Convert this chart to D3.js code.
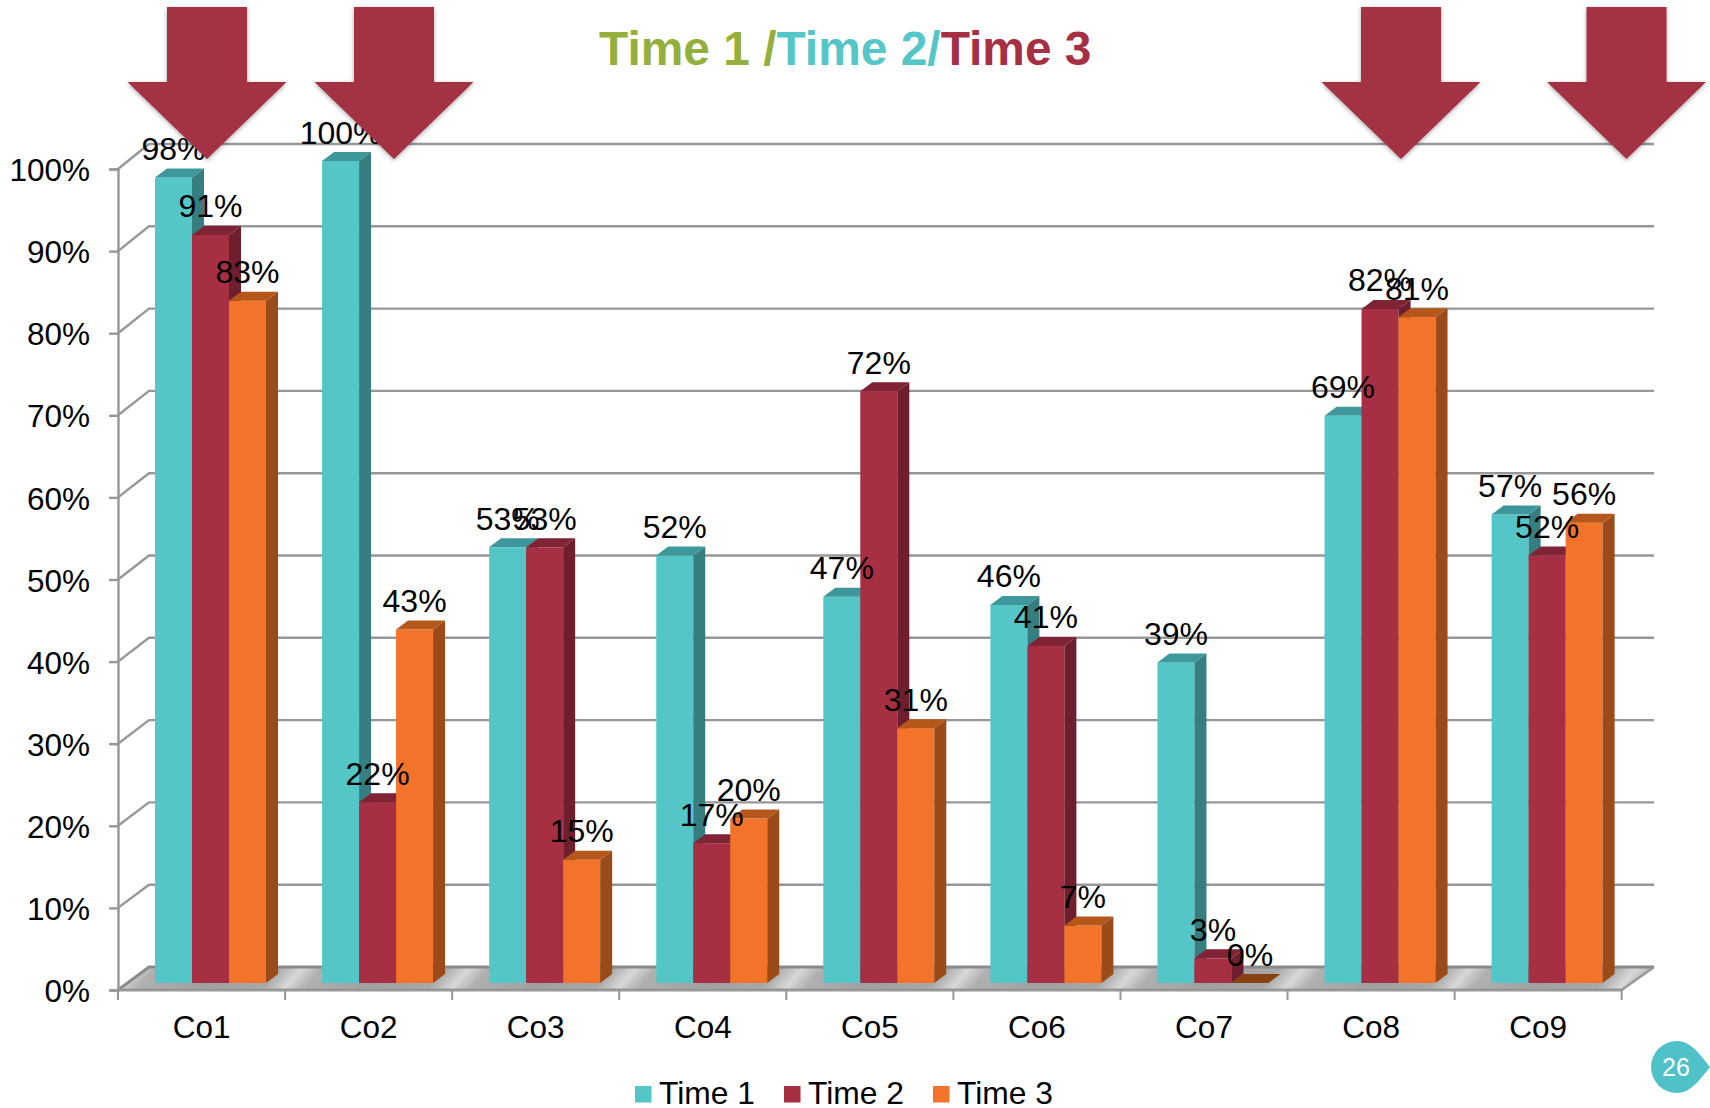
<!DOCTYPE html>
<html>
<head>
<meta charset="utf-8">
<title>Time 1 / Time 2 / Time 3</title>
<script src="https://cdn.jsdelivr.net/npm/d3@7"></script>
<style>
  html, body { margin: 0; padding: 0; background: #fff; }
  svg { display: block; font-family: "Liberation Sans", Arial, sans-serif; }
</style>
</head>
<body>
<svg id="chart" width="1710" height="1108"></svg>
<script>
// Scores per course at three points in time
const categories = ["Co1", "Co2", "Co3", "Co4", "Co5", "Co6", "Co7", "Co8", "Co9"];
const seriesNames = ["Time 1", "Time 2", "Time 3"];
const time1 = [98, 100, 53, 52, 47, 46, 39, 69, 57];
const time2 = [91, 22, 53, 17, 72, 41, 3, 82, 52];
const time3 = [83, 43, 15, 20, 31, 7, 0, 81, 56];
const seriesValues = [time1, time2, time3];
const yTicks = [0, 10, 20, 30, 40, 50, 60, 70, 80, 90, 100];
const highlighted = ["Co1", "Co2", "Co8", "Co9"];

const palette = [
  { front: "#54C6C8", side: "#367E80", top: "#3E979B" },
  { front: "#A62F44", side: "#6E1E2D", top: "#802335" },
  { front: "#F4732A", side: "#9A4B19", top: "#B5561B" }
];
const grid = "#979797";

const svg = d3.select("#chart");
const defs = svg.append("defs");

// Scales: the axis sits on the front plane, gridlines on the back wall, bars in between
const x = d3.scaleBand().domain(categories).range([118, 1621.7]);
const xSeries = d3.scaleBand().domain(seriesNames).range([37, 148]);
const yAxisScale = d3.scaleLinear().domain([0, 100]).range([990, 169]);
const yBack = d3.scaleLinear().domain([0, 100]).range([967, 144]);
const yBar = d3.scaleLinear().domain([0, 100]).range([983, 161]);
const depthX = 12, depthY = 9;
const backDX = 31, gridEnd = 1654;

// Diagonal sheen across the floor, one band per category
const sheen = defs.append("linearGradient")
  .attr("id", "floorSheen")
  .attr("gradientUnits", "userSpaceOnUse")
  .attr("spreadMethod", "repeat")
  .attr("x1", 463).attr("y1", 975)
  .attr("x2", 463 + 95).attr("y2", 975 + 82.6);
[[0, "#d8d8d8"], [0.12, "#b0b0b0"], [0.5, "#a0a0a0"], [0.86, "#a8a8a8"], [1, "#d8d8d8"]]
  .forEach(([o, c]) => sheen.append("stop").attr("offset", o).attr("stop-color", c));

const shadow = defs.append("filter").attr("id", "softShadow")
  .attr("x", "-10%").attr("y", "-10%").attr("width", "120%").attr("height", "120%");
shadow.append("feDropShadow")
  .attr("dx", 0).attr("dy", 1.5).attr("stdDeviation", 2)
  .attr("flood-color", "#000").attr("flood-opacity", 0.35);

// Floor
svg.append("polygon")
  .attr("points", [
    [x.range()[0], yAxisScale(0)],
    [x.range()[1], yAxisScale(0)],
    [gridEnd, yBack(0)],
    [x.range()[0] + backDX, yBack(0)]
  ].join(" "))
  .attr("fill", "url(#floorSheen)");

// Gridlines run up the side wall and across the back wall
const lineGen = d3.line();
svg.append("g").selectAll("path").data(yTicks).join("path")
  .attr("d", d => lineGen([
    [x.range()[0], yAxisScale(d)],
    [x.range()[0] + backDX, yBack(d)],
    [gridEnd, yBack(d)]
  ]))
  .attr("fill", "none")
  .attr("stroke", d => d === 0 ? "#8a8a8a" : grid)
  .attr("stroke-width", d => d === 0 ? 3 : 2.4);

// Right edge of the floor
svg.append("path")
  .attr("d", lineGen([[x.range()[1], yAxisScale(0)], [gridEnd, yBack(0)]]))
  .attr("fill", "none").attr("stroke", grid).attr("stroke-width", 2.4);

// Value axis
const yAxis = svg.append("g")
  .attr("transform", `translate(${x.range()[0]},0)`)
  .call(d3.axisLeft(yAxisScale).tickValues(yTicks).tickFormat(d => d + "%").tickSize(9).tickPadding(19));
yAxis.selectAll("path.domain").attr("stroke", grid).attr("stroke-width", 2.4);
yAxis.selectAll("line").attr("stroke", grid).attr("stroke-width", 2.4);
yAxis.selectAll("text")
  .attr("dy", "0.37em")
  .attr("fill", "#000")
  .style("font-size", "31.5px")
  .style("font-family", "'Liberation Sans', Arial, sans-serif");

// Category axis: labels centred, ticks on the band edges
const xAxis = svg.append("g")
  .attr("transform", `translate(0,${yAxisScale(0)})`)
  .call(d3.axisBottom(x).tickSize(0).tickPadding(26));
xAxis.selectAll("path.domain").attr("stroke", grid).attr("stroke-width", 3).attr("d", `M${x.range()[0]},0H${x.range()[1]}`);
xAxis.selectAll("text")
  .attr("dy", "0.71em")
  .attr("fill", "#000")
  .style("font-size", "31.5px")
  .style("font-family", "'Liberation Sans', Arial, sans-serif");
svg.append("g").selectAll("line")
  .data(categories.map(c => x(c)).concat(x.range()[1]))
  .join("line")
  .attr("x1", d => d).attr("x2", d => d)
  .attr("y1", yAxisScale(0)).attr("y2", yAxisScale(0) + 10)
  .attr("stroke", grid).attr("stroke-width", 2);

// Bars, painted left to right so each front face covers its neighbour's side
const barRows = [];
categories.forEach((c, ci) => {
  seriesNames.forEach((s, si) => {
    barRows.push({ c, s, si, value: seriesValues[si][ci] });
  });
});
const bars = svg.append("g").selectAll("g").data(barRows).join("g");
const bw = xSeries.bandwidth();
bars.append("rect")
  .attr("x", d => x(d.c) + xSeries(d.s))
  .attr("y", d => yBar(d.value))
  .attr("width", bw)
  .attr("height", d => yBar(0) - yBar(d.value))
  .attr("fill", d => palette[d.si].front);
bars.append("polygon")
  .attr("points", d => {
    const r = x(d.c) + xSeries(d.s) + bw, t = yBar(d.value), b = yBar(0);
    return [[r, t], [r + depthX, t - depthY], [r + depthX, b - depthY], [r, b]].join(" ");
  })
  .attr("fill", d => palette[d.si].side);
bars.append("polygon")
  .attr("points", d => {
    const l = x(d.c) + xSeries(d.s), t = yBar(d.value);
    return [[l, t], [l + bw, t], [l + bw + depthX, t - depthY], [l + depthX, t - depthY]].join(" ");
  })
  .attr("fill", d => d.value === 0 ? "#87430F" : palette[d.si].top);

// Value labels float above the front edge of each bar
svg.append("g").selectAll("text").data(barRows).join("text")
  .attr("x", d => x(d.c) + xSeries(d.s) + bw / 2)
  .attr("y", d => yBar(d.value) - 17.5)
  .attr("text-anchor", "middle")
  .attr("fill", "#000")
  .style("font-size", "32px")
  .text(d => d.value + "%");

// Legend
const legendX = d3.scaleOrdinal().domain(seriesNames).range([635, 784, 933]);
const legend = svg.append("g").selectAll("g").data(seriesNames).join("g")
  .attr("transform", d => `translate(${legendX(d)},1086)`);
legend.append("rect")
  .attr("width", 16.5).attr("height", 16.5)
  .attr("fill", (d, i) => palette[i].front);
legend.append("text")
  .attr("x", 24).attr("y", 18)
  .attr("fill", "#000")
  .style("font-size", "31.8px")
  .text(d => d);

// Heading in three colours
const title = svg.append("text")
  .attr("x", 599).attr("y", 65)
  .style("font-size", "47.9px")
  .style("font-weight", "bold");
[["Time 1 /", "#95AF3D"], ["Time 2/", "#54C6C8"], ["Time 3", "#A62F44"]]
  .forEach(([t, c]) => title.append("tspan").attr("fill", c).text(t));

// Down arrows calling out the highlighted courses
const arrowTip = d3.scaleOrdinal().domain(highlighted).range([207, 394, 1401, 1626.5]);
svg.append("g").selectAll("path").data(highlighted).join("path")
  .attr("d", d => {
    const c = arrowTip(d);
    return lineGen([
      [c - 40, 7], [c + 40, 7], [c + 40, 82], [c + 79.5, 82],
      [c, 159], [c - 79.5, 82], [c - 40, 82]
    ]) + "Z";
  })
  .attr("fill", "#A43044")
  .attr("filter", "url(#softShadow)");

// Page number badge
svg.append("path")
  .attr("d", "M1677,1041 C1690,1041 1699,1053 1710,1067 C1699,1081 1690,1093 1677,1093 A26,26 0 0 1 1677,1041 Z")
  .attr("fill", "#4FC1C8");
svg.append("text")
  .attr("x", 1676).attr("y", 1076)
  .attr("text-anchor", "middle")
  .attr("fill", "#fff")
  .style("font-size", "25px")
  .text("26");
</script>
</body>
</html>
